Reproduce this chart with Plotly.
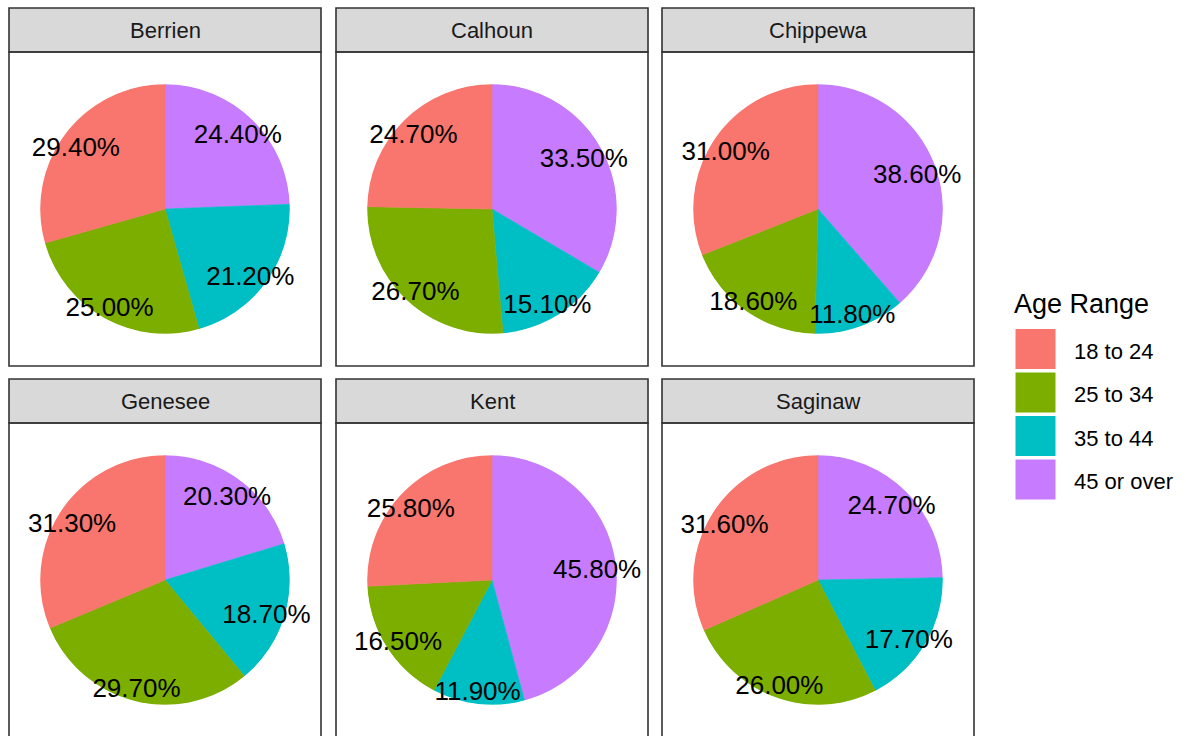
import plotly.graph_objects as go

# ---- data ----
counties = ["Berrien", "Calhoun", "Chippewa", "Genesee", "Kent", "Saginaw"]
age_ranges = ["18 to 24", "25 to 34", "35 to 44", "45 or over"]
pct_18_24 = [29.4, 24.7, 31.0, 31.3, 25.8, 31.6]
pct_25_34 = [25.0, 26.7, 18.6, 29.7, 16.5, 26.0]
pct_35_44 = [21.2, 15.1, 11.8, 18.7, 11.9, 17.7]
pct_45_over = [24.4, 33.5, 38.6, 20.3, 45.8, 24.7]
colors = ["#F8766D", "#7CAE00", "#00BFC4", "#C77CFF"]

series = [pct_18_24, pct_25_34, pct_35_44, pct_45_over]

# ---- layout geometry (pixels) ----
W, H = 1186, 736
col_left = [9, 336, 662]
panel_w = 312
strip_top = [8, 379]
strip_h = 44
panel_h = 314
pie_r = 0.4 * panel_w
label_r = 0.87
label_dx, label_dy = -2.5, 5.5   # ggplot text box centring offset
FONT = "Liberation Sans, Arial, sans-serif"


def px(x):
    return x / W


def py(y):
    return 1 - y / H


def hidden_polar(cx, cy):
    return dict(
        domain=dict(x=[px(cx - pie_r), px(cx + pie_r)],
                    y=[py(cy + pie_r), py(cy - pie_r)]),
        bgcolor="rgba(0,0,0,0)",
        angularaxis=dict(rotation=90, direction="clockwise", visible=False,
                         showgrid=False, showline=False, showticklabels=False, ticks=""),
        radialaxis=dict(range=[0, 1], visible=False, showgrid=False,
                        showline=False, showticklabels=False, ticks=""),
        hole=0,
    )


fig = go.Figure()
shapes = []
annotations = []
layout_polars = {}

for i, county in enumerate(counties):
    row, col = divmod(i, 3)
    x0 = col_left[col]
    x1 = x0 + panel_w
    s0 = strip_top[row]
    s1 = s0 + strip_h
    p1 = s1 + panel_h
    cx = (x0 + x1) / 2
    cy = (s1 + p1) / 2

    # strip + panel border
    shapes.append(dict(type="rect", xref="paper", yref="paper",
                       x0=px(x0), x1=px(x1), y0=py(s1), y1=py(s0),
                       fillcolor="#D9D9D9", line=dict(color="#333333", width=1.6),
                       layer="below"))
    shapes.append(dict(type="rect", xref="paper", yref="paper",
                       x0=px(x0), x1=px(x1), y0=py(p1), y1=py(s1),
                       fillcolor="rgba(0,0,0,0)", line=dict(color="#333333", width=1.6),
                       layer="above"))
    annotations.append(dict(text=county, x=px(cx), y=py((s0 + s1) / 2),
                            xref="paper", yref="paper", showarrow=False,
                            xanchor="center", yanchor="middle",
                            font=dict(size=22, color="#1A1A1A", family=FONT)))

    pie_sub = f"polar{i + 1}" if i > 0 else "polar"
    lab_sub = f"polar{i + 7}"
    layout_polars[pie_sub] = hidden_polar(cx, cy)
    layout_polars[lab_sub] = hidden_polar(cx + label_dx, cy + label_dy)

    # clockwise from 12 o'clock: 45 or over, 35 to 44, 25 to 34, 18 to 24
    order = [3, 2, 1, 0]
    vals = [series[k][i] for k in order]
    total = sum(vals)
    cum = 0
    thetas, widths = [], []
    for v in vals:
        thetas.append((cum + v / 2) / total * 360)
        widths.append(v / total * 360)
        cum += v
    cols = [colors[k] for k in order]
    fig.add_trace(go.Barpolar(
        r=[1] * 4, theta=thetas, width=widths,
        marker=dict(color=cols, line=dict(color=cols, width=0.6)),
        subplot=pie_sub, showlegend=False, hoverinfo="skip"))
    fig.add_trace(go.Scatterpolar(
        r=[label_r] * 4, theta=thetas, mode="text",
        text=[f"{v:.2f}%" for v in vals],
        textposition="middle center",
        textfont=dict(size=26, color="black", family=FONT),
        subplot=lab_sub, showlegend=False, hoverinfo="skip",
        cliponaxis=False))

# ---- legend (manual, ggplot-style) ----
annotations.append(dict(text="Age Range", x=px(1012), y=py(304), xref="paper", yref="paper",
                        showarrow=False, xanchor="left", yanchor="middle",
                        font=dict(size=27, color="black", family=FONT)))
key_top0 = 328.5
key_step = 43.5
key_size = 41
for k, (lab, c) in enumerate(zip(age_ranges, colors)):
    t = key_top0 + k * key_step
    shapes.append(dict(type="rect", xref="paper", yref="paper",
                       x0=px(1015), x1=px(1015 + key_size), y0=py(t + key_size), y1=py(t),
                       fillcolor=c, line=dict(color="white", width=1)))
    annotations.append(dict(text=lab, x=px(1072), y=py(t + key_size / 2 + 2), xref="paper", yref="paper",
                            showarrow=False, xanchor="left", yanchor="middle",
                            font=dict(size=22, color="black", family=FONT)))

fig.update_layout(
    width=W, height=H,
    margin=dict(l=0, r=0, t=0, b=0),
    paper_bgcolor="white", plot_bgcolor="white",
    shapes=shapes, annotations=annotations,
    showlegend=False,
    **layout_polars,
)

fig.write_html("out.html",
               config={"displayModeBar": False},
               post_script="document.body.style.margin='0';"
                           "document.body.style.overflow='hidden';")
